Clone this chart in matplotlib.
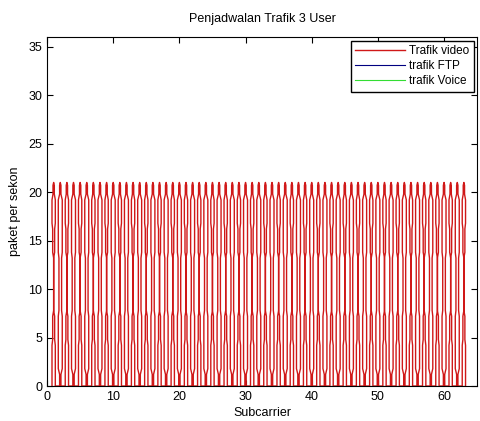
import matplotlib
matplotlib.use("Agg")
import matplotlib.pyplot as plt

plt.rcParams['font.family'] = ['Liberation Sans', 'DejaVu Sans']

# -----------------------
# Data
# -----------------------
subcarrier = list(range(1, 64))
# packet levels where the video trace changes width (band edges)
levels = [0, 1.5, 4.5, 7.5, 10.5, 13.5, 16.5, 19.5, 21]
# half spread of the trace per band, for odd and even subcarriers
spread_odd = [0.25, 0.25, 0.15, 0.0, 0.0, 0.15, 0.25, 0.1]
spread_even = [0.1, 0.3, 0.3, 0.2, 0.2, 0.3, 0.3, 0.1]
peak = 21
ftp = [0] * 63
voice = [0] * 63


def trace_video():
    xs, ys = [], []
    for k in subcarrier:
        w = spread_odd if k % 2 else spread_even
        # left edge going up
        for i in range(len(w)):
            xs += [k - w[i], k - w[i]]
            ys += [levels[i] + (0.3 if i else 0), levels[i + 1] - 0.3]
        xs.append(k)
        ys.append(peak)
        # right edge going down
        for i in reversed(range(len(w))):
            xs += [k + w[i], k + w[i]]
            ys += [levels[i + 1] - 0.3, levels[i] + (0.3 if i else 0)]
    return xs, ys


fig = plt.figure(figsize=(4.8, 4.21), dpi=100)
ax = fig.add_axes([0.098, 0.083, 0.896, 0.829])

ax.plot(subcarrier, voice, color='#33dd33', lw=0.8, label='trafik Voice')
ax.plot(subcarrier, ftp, color='#000080', lw=0.8, label='trafik FTP')
vx, vy = trace_video()
ax.plot(vx, vy, color='#d01818', lw=1.0, label='Trafik video')

h, l = ax.get_legend_handles_labels()
order = [2, 1, 0]
ax.legend([h[i] for i in order], [l[i] for i in order], loc='upper right',
          fontsize=8.5, frameon=True, fancybox=False, edgecolor='black',
          framealpha=1, borderaxespad=0.3, handlelength=4.2, handletextpad=0.3,
          labelspacing=0.25)

ax.set_xlim(0, 65)
ax.set_ylim(0, 36)
ax.set_xticks(range(0, 61, 10))
ax.set_yticks(range(0, 36, 5))
ax.tick_params(direction='in', top=True, right=True, labelsize=9, length=4)
ax.set_title('Penjadwalan Trafik 3 User', fontsize=9, pad=11)
ax.set_xlabel('Subcarrier', fontsize=9, labelpad=3)
ax.set_ylabel('paket per sekon', fontsize=9, labelpad=5)

fig.savefig('out.png', dpi=100)
